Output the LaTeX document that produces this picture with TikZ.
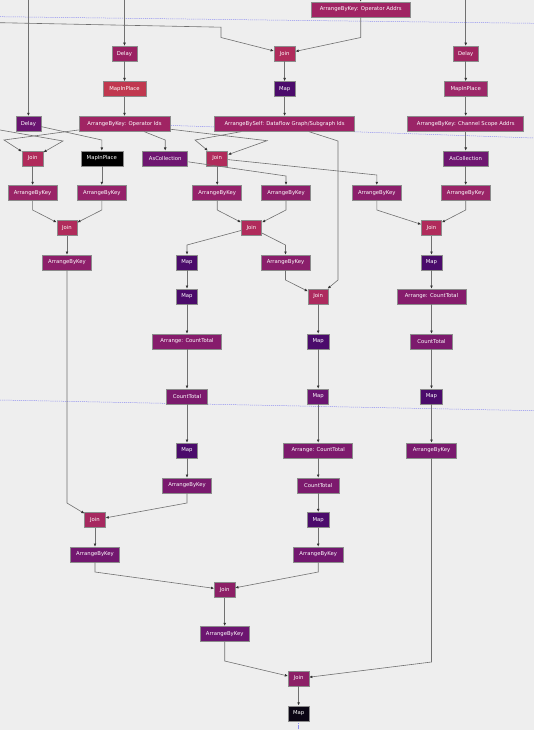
\documentclass[tikz,border=0pt]{standalone}
\usepackage{fontspec}
\setmainfont{DejaVu Sans}
\usetikzlibrary{arrows.meta,backgrounds}
\definecolor{bgc}{HTML}{EEEEEE}
\definecolor{nodeborder}{HTML}{8C8C8C}
\definecolor{edgegray}{HTML}{707070}
\definecolor{arrowc}{HTML}{333333}
\definecolor{bluel}{HTML}{8C8CF0}
\definecolor{cDelay}{HTML}{9A2162}
\definecolor{cDelayB}{HTML}{A02560}
\definecolor{cDelayP}{HTML}{6A1470}
\definecolor{cMipR}{HTML}{C0384F}
\definecolor{cMipB}{HTML}{9C2768}
\definecolor{cJoin}{HTML}{B02B5B}
\definecolor{cJoinB}{HTML}{AD2A5E}
\definecolor{cJoinC}{HTML}{A6285F}
\definecolor{cJoinD}{HTML}{8C1F66}
\definecolor{cMap}{HTML}{4B0B6B}
\definecolor{cMapL}{HTML}{6B1571}
\definecolor{cMapK}{HTML}{0B0614}
\definecolor{cAbkTop}{HTML}{A02463}
\definecolor{cSelf}{HTML}{9E2366}
\definecolor{cChan}{HTML}{9A2467}
\definecolor{cAsc}{HTML}{6E1670}
\definecolor{cAbkA}{HTML}{9A2467}
\definecolor{cAbkB}{HTML}{96226A}
\definecolor{cAbkC}{HTML}{95216A}
\definecolor{cAbkD}{HTML}{8E1F6A}
\definecolor{cAbkE}{HTML}{8C1E6B}
\definecolor{cAbkH}{HTML}{8A1E6B}
\definecolor{cAbkI}{HTML}{7A196E}
\definecolor{cAbkK}{HTML}{72176F}
\definecolor{cAbkM}{HTML}{6C1570}
\definecolor{cAct}{HTML}{861C6C}
\definecolor{cActM}{HTML}{7D1A6D}
\definecolor{cCt}{HTML}{7C1A6D}
\begin{document}
\begin{tikzpicture}[x=1pt,y=-1pt,
  nd/.style={rectangle, draw=nodeborder, line width=0.6pt, text=white, inner sep=0pt,
    minimum height=15pt, font=\fontsize{5.3}{6}\selectfont},
  ed/.style={draw=edgegray, line width=0.6pt, -{Latex[length=3.2pt,width=2.8pt,color=arrowc]}},
  bl/.style={draw=bluel, line width=0.5pt, dash pattern=on 1.2pt off 0.9pt}]
\useasboundingbox (0,0) rectangle (534,730);

% row 1
\node[nd, fill=cAbkTop, minimum width=99pt] (oaddr) at (360.7,9.5) {ArrangeByKey: Operator Addrs};
% row 2
\node[nd, fill=cDelay, minimum width=25pt] (delay1) at (124.5,53.7) {Delay};
\node[nd, fill=cJoin, minimum width=21pt] (join1) at (284.6,53.7) {Join};
\node[nd, fill=cDelayB, minimum width=25pt] (delay2) at (465.7,53.7) {Delay};
% row 3
\node[nd, fill=cMipR, minimum width=43pt] (mip1) at (124.5,89) {MapInPlace};
\node[nd, fill=cMap, minimum width=21pt] (map1) at (284.6,89) {Map};
\node[nd, fill=cMipB, minimum width=43pt] (mip2) at (465.7,89) {MapInPlace};
% row 4
\node[nd, fill=cDelayP, minimum width=25pt] (delay3) at (28.4,123.8) {Delay};
\node[nd, fill=cAbkTop, minimum width=91pt] (opids) at (124.5,123.8) {ArrangeByKey: Operator Ids};
\node[nd, fill=cSelf, minimum width=140pt] (bself) at (284.6,123.8) {ArrangeBySelf: Dataflow Graph/Subgraph Ids};
\node[nd, fill=cChan, minimum width=116pt] (chan) at (465.7,123.8) {ArrangeByKey: Channel Scope Addrs};
% row 5
\node[nd, fill=cJoin, minimum width=21pt] (join2) at (32.6,158.5) {Join};
\node[nd, fill=black, minimum width=42pt] (mip3) at (101.8,158.5) {MapInPlace};
\node[nd, fill=cAsc, minimum width=45pt] (ascol1) at (165.2,158.5) {AsCollection};
\node[nd, fill=cJoin, minimum width=21pt] (join3) at (217.2,158.5) {Join};
\node[nd, fill=cAsc, minimum width=45pt] (ascol2) at (465.7,158.5) {AsCollection};
% row 6
\node[nd, fill=cAbkA, minimum width=49pt] (abka) at (32.6,192.8) {ArrangeByKey};
\node[nd, fill=cAbkB, minimum width=49pt] (abkb) at (101.8,192.8) {ArrangeByKey};
\node[nd, fill=cAbkC, minimum width=49pt] (abkc) at (217.2,192.8) {ArrangeByKey};
\node[nd, fill=cAbkD, minimum width=49pt] (abkd) at (286,192.8) {ArrangeByKey};
\node[nd, fill=cAbkE, minimum width=49pt] (abke) at (376.8,192.8) {ArrangeByKey};
\node[nd, fill=cAbkA, minimum width=49pt] (abkf) at (465.7,192.8) {ArrangeByKey};
% row 7
\node[nd, fill=cJoin, minimum width=20pt] (join4) at (67,227.7) {Join};
\node[nd, fill=cJoin, minimum width=20.5pt] (join5) at (251.5,227.7) {Join};
\node[nd, fill=cJoin, minimum width=20pt] (join6) at (431.5,227.7) {Join};
% row 8
\node[nd, fill=cAbkD, minimum width=49pt] (abkg) at (67,262.5) {ArrangeByKey};
\node[nd, fill=cMap, minimum width=21pt] (map2) at (187,262.5) {Map};
\node[nd, fill=cAbkH, minimum width=49pt] (abkh) at (285.5,262.5) {ArrangeByKey};
\node[nd, fill=cMap, minimum width=21pt] (map3) at (431.5,262.5) {Map};
% row 9
\node[nd, fill=cMap, minimum width=21pt] (map4) at (187,296.5) {Map};
\node[nd, fill=cJoinB, minimum width=20pt] (join7) at (318.2,296.5) {Join};
\node[nd, fill=cAct, minimum width=69pt] (actr) at (431.5,296.5) {Arrange: CountTotal};
% row 10
\node[nd, fill=cAct, minimum width=69pt] (actl) at (187,341.5) {Arrange: CountTotal};
\node[nd, fill=cMap, minimum width=21.5pt] (map5) at (318.2,341.5) {Map};
\node[nd, fill=cCt, minimum width=41.5pt] (ctr) at (431.5,341.5) {CountTotal};
% row 11
\node[nd, fill=cCt, minimum width=41.5pt] (ctl) at (187,396.5) {CountTotal};
\node[nd, fill=cMapL, minimum width=21pt] (map6) at (318.2,396.5) {Map};
\node[nd, fill=cMap, minimum width=21.5pt] (map7) at (431.5,396.5) {Map};
% row 12
\node[nd, fill=cMap, minimum width=21.5pt] (map8) at (187,450.5) {Map};
\node[nd, fill=cActM, minimum width=69pt] (actm) at (318.2,450.5) {Arrange: CountTotal};
\node[nd, fill=cAbkI, minimum width=50pt] (abki) at (431.5,450.5) {ArrangeByKey};
% row 13
\node[nd, fill=cAbkI, minimum width=49pt] (abkj) at (187,485.5) {ArrangeByKey};
\node[nd, fill=cCt, minimum width=41.5pt] (ctm) at (318.2,485.5) {CountTotal};
% row 14
\node[nd, fill=cJoinC, minimum width=20.5pt] (join8) at (95,519.8) {Join};
\node[nd, fill=cMap, minimum width=21.5pt] (map9) at (318.2,519.8) {Map};
% row 15
\node[nd, fill=cAbkK, minimum width=49pt] (abkk) at (95,554.5) {ArrangeByKey};
\node[nd, fill=cAbkK, minimum width=50pt] (abkl) at (318.2,554.5) {ArrangeByKey};
% row 16
\node[nd, fill=cJoinD, minimum width=20.5pt] (join9) at (224.7,589.8) {Join};
% row 17
\node[nd, fill=cAbkM, minimum width=49pt] (abkm) at (224.7,633.8) {ArrangeByKey};
% row 18
\node[nd, fill=cJoinD, minimum width=20.5pt] (join10) at (298.6,678.5) {Join};
% row 19
\node[nd, fill=cMapK, minimum width=21.5pt] (map10) at (298.6,713.3) {Map};

% free ends
\coordinate (t1) at (28.4,-4);
\coordinate (t2) at (124.5,-4);
\coordinate (t3) at (360.7,-4);
\coordinate (t4) at (465.7,-4);
\coordinate (t5) at (0,22.7);
\coordinate (t6) at (0,130);
\coordinate (b1) at (0,16.7);
\coordinate (b1e) at (534,23.3);
\coordinate (b2e) at (534,138);
\coordinate (b3) at (0,400);
\coordinate (b3e) at (534,410.7);
\coordinate (b4e) at (298.6,734);

% background and guide lines
\begin{scope}[on background layer]
\fill[bgc] (0,0) rectangle (534,730);
\draw[bl] (b1) -- (b1e);
\draw[bl] (opids.center) -- (b2e);
\draw[bl] (b3) -- (b3e);
\draw[bl] (map10) -- (b4e);
\end{scope}

% edges
\draw[ed] (t1) -- (delay3);
\draw[ed] (t2) -- (delay1);
\draw[ed] (t3) -- (oaddr);
\draw[ed] (t4) -- (delay2);
\draw[ed] (t5) -- (221,27.2) -- (221,37.5) -- (join1);
\draw[ed] (oaddr) -- (360.7,37.5) -- (join1);
\draw[ed] (delay1) -- (mip1);
\draw[ed] (mip1) -- (opids);
\draw[ed] (join1) -- (map1);
\draw[ed] (map1) -- (bself);
\draw[ed] (delay2) -- (mip2);
\draw[ed] (mip2) -- (chan);
\draw[ed] (chan) -- (ascol2);
\draw[ed] (ascol2) -- (abkf);
\draw[ed] (t6) -- (63,141) -- (join2);
\draw[ed] (opids) -- (4,140) -- (join2);
\draw[ed] (delay3) -- (101.8,140) -- (mip3);
\draw[ed] (opids) -- (165.2,140) -- (ascol1);
\draw[ed] (opids) -- (267,140.7) -- (join3);
\draw[ed] (bself) -- (195,140) -- (join3);
\draw[ed] (bself) -- (338,141) -- (338,280) -- (join7);
\draw[ed] (join2) -- (abka);
\draw[ed] (mip3) -- (abkb);
\draw[ed] (join3) -- (abkc);
\draw[ed] (ascol1) -- (286,176) -- (abkd);
\draw[ed] (join3) -- (376.8,175) -- (abke);
\draw[ed] (abka) -- (32.6,210) -- (join4);
\draw[ed] (abkb) -- (101.8,210) -- (join4);
\draw[ed] (abkc) -- (217.2,210) -- (join5);
\draw[ed] (abkd) -- (286,210) -- (join5);
\draw[ed] (abke) -- (376.8,210) -- (join6);
\draw[ed] (abkf) -- (465.7,210) -- (join6);
\draw[ed] (join4) -- (abkg);
\draw[ed] (join5) -- (187,245) -- (map2);
\draw[ed] (join5) -- (285.5,245) -- (abkh);
\draw[ed] (join6) -- (map3);
\draw[ed] (abkg) -- (67,503) -- (join8);
\draw[ed] (map2) -- (map4);
\draw[ed] (abkh) -- (285.5,280) -- (join7);
\draw[ed] (map3) -- (actr);
\draw[ed] (map4) -- (actl);
\draw[ed] (join7) -- (map5);
\draw[ed] (actr) -- (ctr);
\draw[ed] (actl) -- (ctl);
\draw[ed] (map5) -- (map6);
\draw[ed] (ctr) -- (map7);
\draw[ed] (ctl) -- (map8);
\draw[ed] (map6) -- (actm);
\draw[ed] (map7) -- (abki);
\draw[ed] (map8) -- (abkj);
\draw[ed] (actm) -- (ctm);
\draw[ed] (abki) -- (431.5,662) -- (join10);
\draw[ed] (abkj) -- (187,503) -- (join8);
\draw[ed] (ctm) -- (map9);
\draw[ed] (join8) -- (abkk);
\draw[ed] (map9) -- (abkl);
\draw[ed] (abkk) -- (95,572) -- (join9);
\draw[ed] (abkl) -- (318.2,572) -- (join9);
\draw[ed] (join9) -- (abkm);
\draw[ed] (abkm) -- (224.7,661) -- (join10);
\draw[ed] (join10) -- (map10);
\end{tikzpicture}
\end{document}
